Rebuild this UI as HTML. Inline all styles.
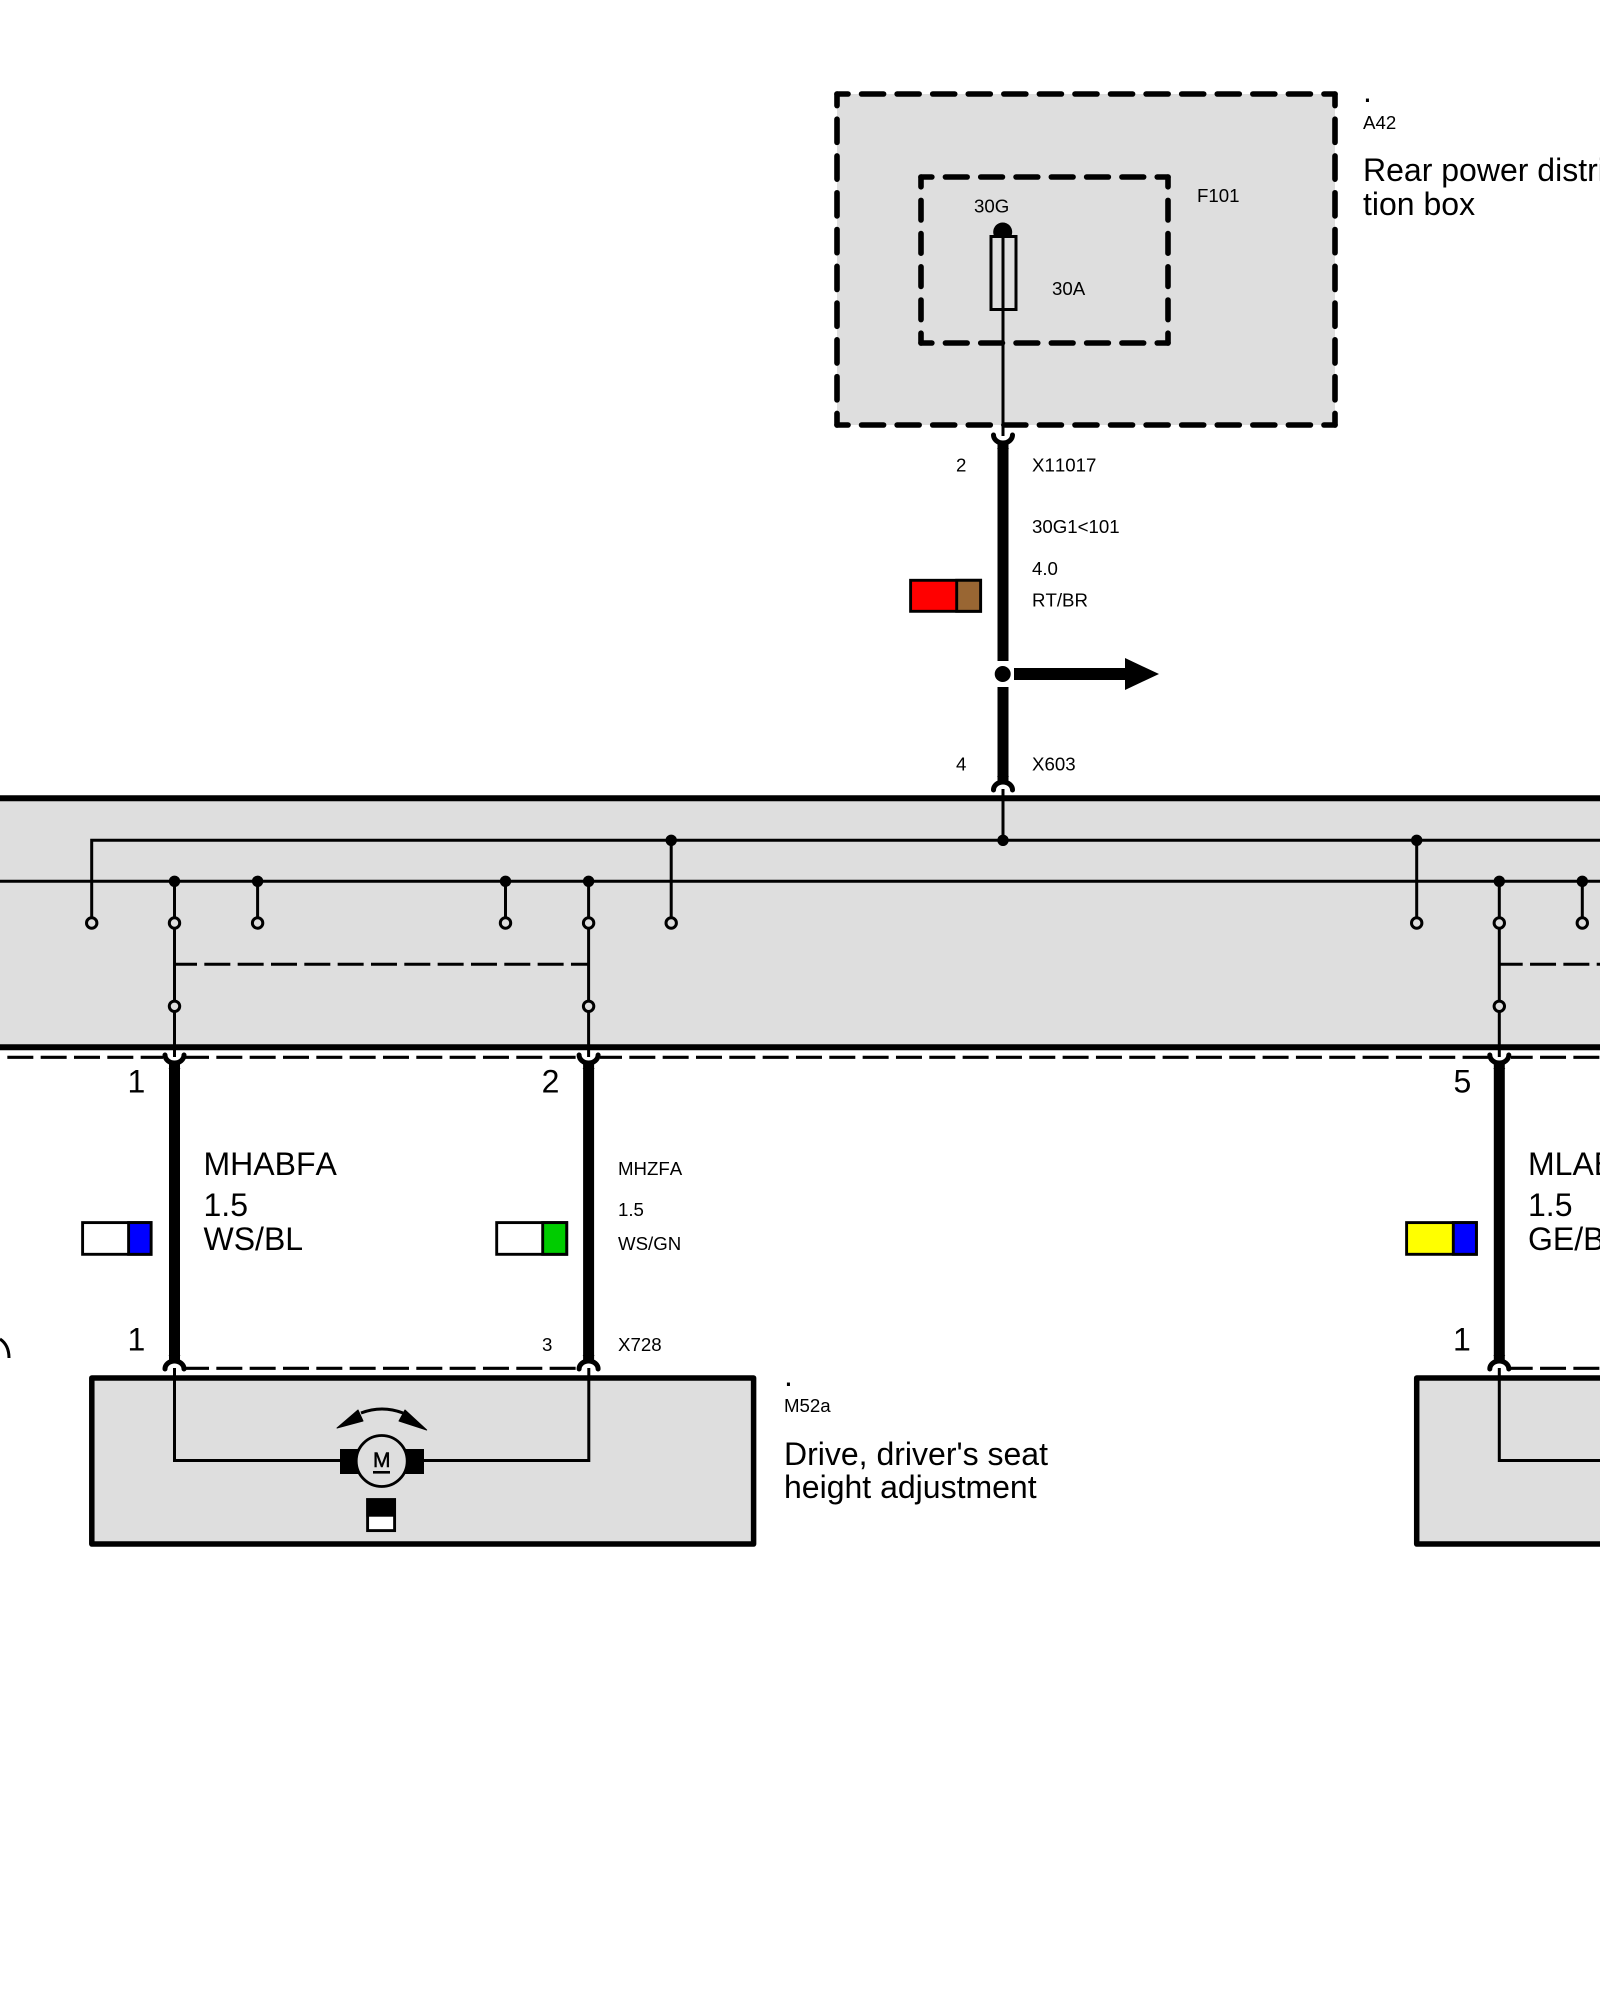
<!DOCTYPE html>
<html><head><meta charset="utf-8"><style>
html,body{margin:0;padding:0;background:#fff;width:1600px;height:2000px;overflow:hidden}
svg{display:block}
text{font-family:"Liberation Sans",Arial,sans-serif;fill:#000;font-kerning:none}
.s{font-size:18.67px}.l{font-size:32px}
</style></head><body>
<svg width="1600" height="2000" viewBox="0 0 1600 2000" xmlns="http://www.w3.org/2000/svg">
<rect width="1600" height="2000" fill="#fff"/>
<!-- A42 -->
<rect x="837" y="94" width="498" height="331" fill="#dedede"/>
<g stroke="#000" stroke-width="5.6" stroke-linecap="round" fill="none">
<g stroke-dasharray="22 13.57" stroke-dashoffset="11"><path d="M837 94H1335"/><path d="M837 425H1335"/></g>
<g stroke-dasharray="23.2 13.58" stroke-dashoffset="11.6"><path d="M837 94V425"/><path d="M1335 94V425"/></g>
<g stroke-dasharray="21.7 13.6" stroke-dashoffset="10.85"><path d="M921 177H1168"/><path d="M921 343H1168"/></g>
<g stroke-dasharray="19.6 13.6" stroke-dashoffset="9.8"><path d="M921 177V343"/><path d="M1168 177V343"/></g>
</g>
<circle cx="1002.7" cy="232" r="9.5" fill="#000"/>
<rect x="991" y="236.5" width="25" height="73" fill="#dedede" stroke="#000" stroke-width="3"/>
<path d="M1003 232V436" stroke="#000" stroke-width="3" fill="none"/>
<!-- top harness -->
<path d="M993.5 435a9.5 8 0 0 0 19 0" stroke="#000" stroke-width="5" stroke-linecap="round" fill="none"/>
<path d="M1003 443V661M1003 687V782" stroke="#000" stroke-width="11" fill="none"/>
<path d="M997 449L1003 441L1009 449ZM997 776L1003 784L1009 776Z" fill="#000"/>
<circle cx="1002.7" cy="674" r="12" fill="#fff"/><circle cx="1002.7" cy="674" r="8" fill="#000"/>
<path d="M1014 674H1126" stroke="#000" stroke-width="12"/>
<path d="M1125 658L1159 674L1125 690Z" fill="#000"/>
<path d="M993.5 790a9.5 8 0 0 1 19 0" stroke="#000" stroke-width="5" stroke-linecap="round" fill="none"/>
<rect x="910.6" y="580.3" width="70" height="31" fill="#ff0000" stroke="#000" stroke-width="2.9"/>
<rect x="956.7" y="580.3" width="23.9" height="31" fill="#996633" stroke="#000" stroke-width="2.9"/>
<!-- bar -->
<rect x="0" y="798" width="1600" height="249" fill="#dedede"/>
<g stroke="#000" fill="none">
<path d="M0 798.3H1600M0 1047.3H1600" stroke-width="6"/>
<g stroke-width="3">
<path d="M1600 840.3H91.7V918"/>
<path d="M0 881.3H1600"/>
<path d="M1003 789V840"/>
<path d="M174.5 881V1057M588.6 881V1057M1499.3 881V1057"/>
<path d="M257.6 881V918M505.5 881V918M671.2 840V918M1416.7 840V918M1582.3 881V918"/>
<path d="M174.5 964.3H588.6" stroke-dasharray="26 7.33" stroke-dashoffset="3.5"/>
<path d="M1499.3 964.3H1600" stroke-dasharray="26 7.33" stroke-dashoffset="2.6"/>
</g>
</g>
<g fill="#000">
<circle cx="671.2" cy="840.3" r="5.7"/><circle cx="1003" cy="840.3" r="5.7"/><circle cx="1416.7" cy="840.3" r="5.7"/>
<circle cx="174.5" cy="881.3" r="5.7"/><circle cx="257.6" cy="881.3" r="5.7"/><circle cx="505.5" cy="881.3" r="5.7"/><circle cx="588.6" cy="881.3" r="5.7"/><circle cx="1499.3" cy="881.3" r="5.7"/><circle cx="1582.3" cy="881.3" r="5.7"/>
</g>
<g fill="#dedede" stroke="#000" stroke-width="3">
<circle cx="91.7" cy="923" r="5.2"/><circle cx="174.5" cy="923" r="5.2"/><circle cx="257.6" cy="923" r="5.2"/><circle cx="505.5" cy="923" r="5.2"/><circle cx="588.6" cy="923" r="5.2"/><circle cx="671.2" cy="923" r="5.2"/><circle cx="1416.7" cy="923" r="5.2"/><circle cx="1499.3" cy="923" r="5.2"/><circle cx="1582.3" cy="923" r="5.2"/>
<circle cx="174.5" cy="1006.3" r="5.2"/><circle cx="588.6" cy="1006.3" r="5.2"/><circle cx="1499.3" cy="1006.3" r="5.2"/>
</g>
<!-- dashed under bar -->
<g stroke="#000" stroke-width="3.2" fill="none" stroke-dasharray="26 7.33">
<path d="M-26 1057.3H163"/>
<path d="M185 1057.3H577" stroke-dashoffset="2"/>
<path d="M600 1057.3H1488" stroke-dashoffset="4"/>
<path d="M1511 1057.3H1600" stroke-dashoffset="4.3"/>
</g>
<!-- lower forks and thick wires -->
<g fill="none" stroke="#000">
<g stroke-width="5" stroke-linecap="round">
<path d="M165 1055a9.5 8 0 0 0 19 0"/><path d="M579.1 1055a9.5 8 0 0 0 19 0"/><path d="M1489.8 1055a9.5 8 0 0 0 19 0"/>
<path d="M165 1369a9.5 8 0 0 1 19 0"/><path d="M579.1 1369a9.5 8 0 0 1 19 0"/><path d="M1489.8 1369a9.5 8 0 0 1 19 0"/>
</g>
<path d="M174.5 1063V1362M588.6 1063V1362M1499.3 1063V1362" stroke-width="11"/>
<path d="M185 1368.3H577" stroke-width="3.2" stroke-dasharray="26 7.33" stroke-dashoffset="2"/>
<path d="M1511 1368.3H1600" stroke-width="3.2" stroke-dasharray="26 7.33" stroke-dashoffset="4.3"/>
<path d="M0 1339Q9 1345 9 1358" stroke-width="3"/>
</g>
<g fill="#000">
<path d="M168.5 1069L174.5 1061L180.5 1069ZM582.6 1069L588.6 1061L594.6 1069ZM1493.3 1069L1499.3 1061L1505.3 1069Z"/>
<path d="M168.5 1355L174.5 1363L180.5 1355ZM582.6 1355L588.6 1363L594.6 1355ZM1493.3 1355L1499.3 1363L1505.3 1355Z"/>
</g>
<!-- M52a box -->
<rect x="91.8" y="1378" width="661.8" height="166" fill="#dedede" stroke="#000" stroke-width="5.5" stroke-linejoin="round"/>
<rect x="1416.7" y="1378" width="300" height="166" fill="#dedede" stroke="#000" stroke-width="5.5" stroke-linejoin="round"/>
<g fill="none" stroke="#000" stroke-width="3">
<path d="M174.5 1368V1460.5H340M424 1460.5H588.8V1368"/>
<path d="M1499.3 1368V1460.5H1600"/>
<path d="M361 1413Q382 1405 403 1413"/>
</g>
<rect x="340" y="1449" width="84" height="25" fill="#000"/>
<circle cx="381.7" cy="1461" r="25.5" fill="#dedede" stroke="#000" stroke-width="2.8"/>
<text x="381.7" y="1467" text-anchor="middle" style="font-size:21px;font-weight:normal;stroke:#000;stroke-width:.5px">M</text>
<rect x="373" y="1471" width="17" height="2.6" fill="#000"/>
<path d="M337 1428L358 1410L363 1421Z" fill="#000" stroke="#000" stroke-width="1" stroke-linejoin="round"/>
<path d="M426.7 1430L405 1410L399 1421Z" fill="#000" stroke="#000" stroke-width="1" stroke-linejoin="round"/>
<rect x="367.6" y="1499.6" width="27" height="31" fill="#fff" stroke="#000" stroke-width="2.9"/>
<rect x="366.3" y="1498.3" width="29.7" height="18.4" fill="#000"/>
<!-- color boxes -->
<g stroke="#000" stroke-width="2.9">
<rect x="82.6" y="1222.6" width="68.5" height="31.7" fill="#fff"/><rect x="128.6" y="1222.6" width="22.5" height="31.7" fill="#0000ff"/>
<rect x="496.7" y="1222.6" width="70" height="31.7" fill="#fff"/><rect x="542.7" y="1222.6" width="24" height="31.7" fill="#00cc00"/>
<rect x="1406.6" y="1222.6" width="69.8" height="31.7" fill="#ffff00"/><rect x="1453.3" y="1222.6" width="23.1" height="31.7" fill="#0000ff"/>
</g>
<!-- text -->
<text class="l" x="1363" y="102">.</text>
<text class="s" x="1363" y="129">A42</text>
<text class="l" x="1363" y="181">Rear power distri-</text>
<text class="l" x="1363" y="215">tion box</text>
<text class="s" x="1197" y="202">F101</text>
<text class="s" x="974" y="212.7">30G</text>
<text class="s" x="1052" y="295">30A</text>
<text class="s" x="956" y="471.7">2</text>
<text class="s" x="1032" y="471.7">X11017</text>
<text class="s" x="1032" y="533">30G1&lt;101</text>
<text class="s" x="1032" y="575">4.0</text>
<text class="s" x="1032" y="606.5">RT/BR</text>
<text class="s" x="956" y="770.7">4</text>
<text class="s" x="1032" y="770.7">X603</text>
<text class="l" x="127.5" y="1092.5">1</text>
<text class="l" x="541.6" y="1092.5">2</text>
<text class="l" x="1453.5" y="1092.5">5</text>
<text class="l" x="203.5" y="1175">MHABFA</text>
<text class="l" x="203.5" y="1216">1.5</text>
<text class="l" x="203.5" y="1250">WS/BL</text>
<text class="s" x="618" y="1175">MHZFA</text>
<text class="s" x="618" y="1216">1.5</text>
<text class="s" x="618" y="1250">WS/GN</text>
<text class="l" x="1528" y="1175">MLABFA</text>
<text class="l" x="1528" y="1216">1.5</text>
<text class="l" x="1528" y="1250">GE/BL</text>
<text class="l" x="127.5" y="1350.7">1</text>
<text class="l" x="1453" y="1350.7">1</text>
<text class="s" x="542" y="1351">3</text>
<text class="s" x="618" y="1351">X728</text>
<text class="l" x="784" y="1386">.</text>
<text class="s" x="784" y="1412">M52a</text>
<text class="l" x="784" y="1465">Drive, driver's seat</text>
<text class="l" x="784" y="1498">height adjustment</text>
</svg>
</body></html>
